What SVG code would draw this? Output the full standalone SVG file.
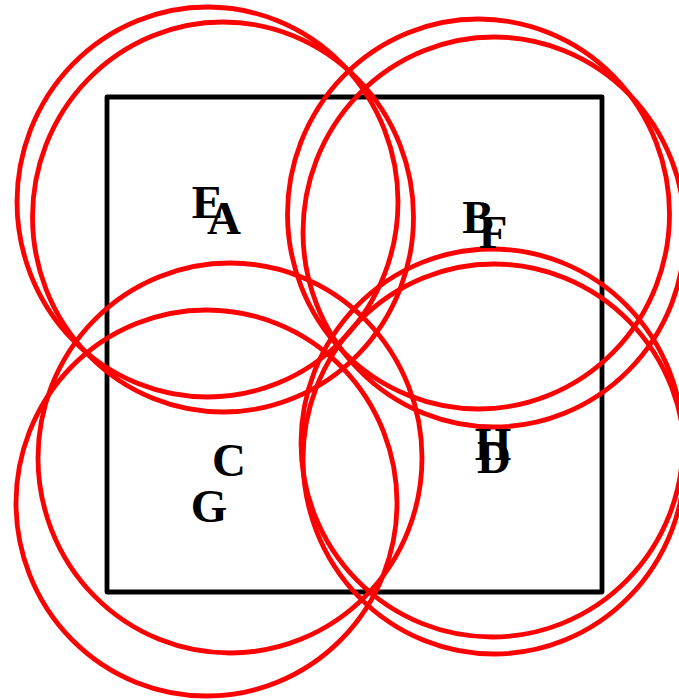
<svg xmlns="http://www.w3.org/2000/svg" width="679" height="700" viewBox="0 0 679 700">
<style>
.ring{fill:none;stroke:#ff0000;stroke-width:4.8}
.lbl{font-family:"Liberation Serif","Times New Roman",serif;font-weight:bold;font-size:47px;fill:#000;text-anchor:middle}
.box{fill:none;stroke:#000;stroke-width:4.8;stroke-linejoin:round}
</style>
<rect id="frame" class="box" x="107" y="97" width="495" height="495"/>
<g id="node-A"><ellipse class="ring" cx="223" cy="217" rx="190.5" ry="195"/></g>
<g id="node-B"><ellipse class="ring" cx="478.5" cy="214" rx="191" ry="195"/></g>
<g id="node-C"><ellipse class="ring" cx="230" cy="458" rx="192" ry="195"/></g>
<g id="node-D"><ellipse class="ring" cx="494" cy="459" rx="191" ry="195"/></g>
<g id="node-E"><ellipse class="ring" cx="207.5" cy="202" rx="190.5" ry="195"/></g>
<g id="node-F"><ellipse class="ring" cx="494" cy="232" rx="191" ry="195"/></g>
<g id="node-G"><ellipse class="ring" cx="206.5" cy="503" rx="190.5" ry="193"/></g>
<g id="node-H"><ellipse class="ring" cx="492" cy="443" rx="191" ry="194"/></g>
<g id="labels">
<text class="lbl" x="224" y="234">A</text>
<text class="lbl" x="478" y="233">B</text>
<text class="lbl" x="229" y="476">C</text>
<text class="lbl" x="494" y="473">D</text>
<text class="lbl" x="207.5" y="218">E</text>
<text class="lbl" x="493" y="248">F</text>
<text class="lbl" x="209" y="522">G</text>
<text class="lbl" x="493" y="460">H</text>
</g>
<g id="connectors"/>
</svg>
